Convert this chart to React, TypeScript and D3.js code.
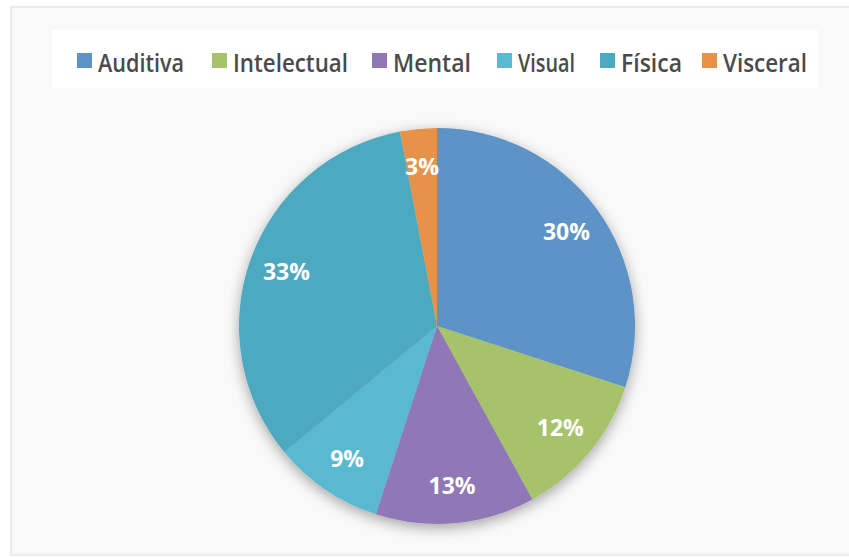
import React from "react";
import * as d3 from "d3";

const categories = ["Auditiva", "Intelectual", "Mental", "Visual", "Física", "Visceral"];
const values = [30, 12, 13, 9, 33, 3];
const colors = ["#5d93c6", "#a6c36c", "#8f78b5", "#5ab8d0", "#4ea9c0", "#e6924a"];
const legendX = [77, 212, 372, 497, 600, 702];
const legendTextW = [86, 115, 78, 57, 61, 84];

const W = 849;
const H = 557;
const cx = 437;
const cy = 326;
const R = 198;

export default function App() {
  const pie = d3.pie<number>().sort(null).value((d) => d)(values);
  const arc = d3.arc<d3.PieArcDatum<number>>().innerRadius(0).outerRadius(R);
  const labelArc = d3.arc<d3.PieArcDatum<number>>().innerRadius(160).outerRadius(160);
  return (
    <svg width={W} height={H} style={{ position: "absolute", left: 0, top: 0 }}>
      <defs>
        <filter id="sh" x="-30%" y="-30%" width="160%" height="160%">
          <feGaussianBlur in="SourceAlpha" stdDeviation="7" />
          <feOffset dx="0" dy="4" result="b" />
          <feComponentTransfer>
            <feFuncA type="linear" slope="0.35" />
          </feComponentTransfer>
          <feMerge>
            <feMergeNode />
            <feMergeNode in="SourceGraphic" />
          </feMerge>
        </filter>
      </defs>
      <rect x={0} y={0} width={W} height={H} fill="#ffffff" />
      <rect x={11} y={7} width={W + 5} height={548} fill="#f9f9f9" stroke="#e6e6e6" strokeWidth={1.5} />
      <rect x={52} y={30} width={766} height={58} fill="#ffffff" />
      {categories.map((c, i) => (
        <g key={c}>
          <rect x={legendX[i]} y={53} width={15} height={15} fill={colors[i]} />
          <text
            x={legendX[i] + 21}
            y={71.5}
            fontFamily="Open Sans, sans-serif"
            fontWeight={600}
            fontSize={25}
            fill="#4a4a4a"
            textLength={legendTextW[i]}
            lengthAdjust="spacingAndGlyphs"
          >
            {c}
          </text>
        </g>
      ))}
      <g transform={`translate(${cx},${cy})`}>
        <g filter="url(#sh)">
          {pie.map((p, i) => (
            <path key={i} d={arc(p) || ""} fill={colors[i]} />
          ))}
        </g>
        {pie.map((p, i) => {
          const [x, y] = labelArc.centroid(p);
          return (
            <text
              key={"l" + i}
              x={x}
              y={y}
              dy="0.36em"
              textAnchor="middle"
              fontFamily="Open Sans, sans-serif"
              fontWeight="bold"
              fontSize={23}
              fill="#ffffff"
            >
              {values[i]}%
            </text>
          );
        })}
      </g>
    </svg>
  );
}
